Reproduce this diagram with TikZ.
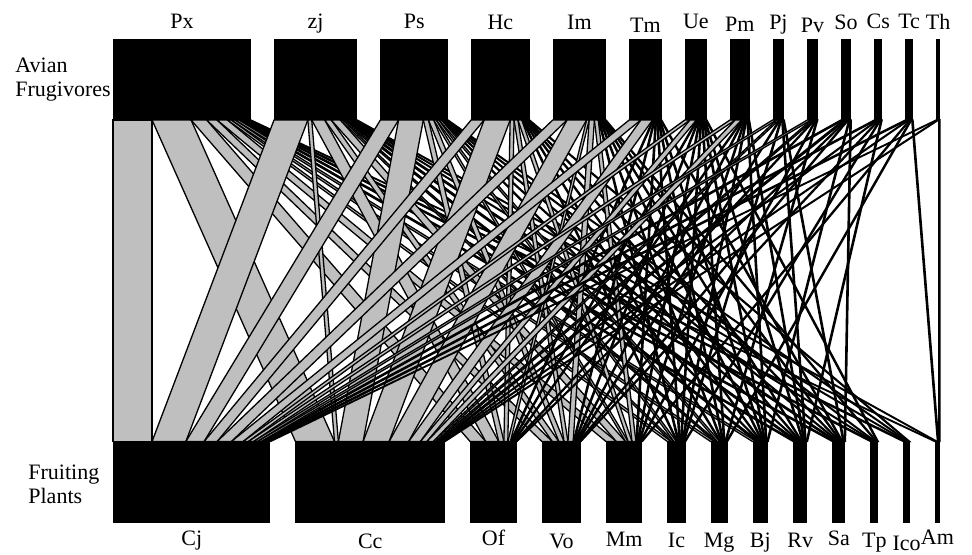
\documentclass[tikz,border=0pt]{standalone}
\usepackage{fontspec}
\setmainfont{Liberation Serif}
\usepackage{tikz}
\usetikzlibrary{calc,backgrounds}
\tikzset{
  specbox/.style={fill=black,draw=none,inner sep=0pt,outer sep=0pt},
  linkband/.style={fill=black!25,draw=black,line width=0.65pt},
  speclabel/.style={font=\fontsize{11}{12}\selectfont,inner sep=0pt,anchor=base},
  sidelabel/.style={font=\fontsize{11}{12}\selectfont,align=left,inner sep=0pt,anchor=north west},
}
% species name / label drop (px)
\def\birdlist{Px/11,zj/11,Ps/11,Hc/10,Im/10,Tm/7,Ue/11,Pm/8,Pj/10,Pv/7,So/10,Cs/11,Tc/11,Th/10}
\def\plantlist{Cj/22,Cc/25,Of/22,Vo/25,Mm/23,Ic/24,Mg/24,Bj/24,Rv/24,Sa/22,Tp/24,Ico/27,Am/21}
% one row per frugivore, columns in plant order
\def\visits{%
  {30,30,12,8,8,3,3,3,2,2,2,2,1},%
  {26,3,10,5,7,2,2,2,2,2,1,1,1},%
  {14,19,4,4,2,2,2,1,1,1,1,1,0},%
  {10,20,3,3,3,1,1,1,1,1,0,1,0},%
  {11,15,2,4,3,1,1,1,1,1,1,0,0},%
  {9,9,1,1,1,1,1,1,0,1,0,0,0},%
  {4,5,1,1,1,1,1,1,1,0,1,0,0},%
  {4,5,1,1,1,1,0,1,1,0,0,0,0},%
  {3,2,0,1,0,1,0,0,1,1,0,0,0},%
  {3,2,1,0,1,0,1,0,0,0,0,0,0},%
  {2,2,1,1,0,0,0,1,0,1,0,0,0},%
  {2,1,0,1,0,1,0,0,1,0,0,0,0},%
  {2,1,0,0,1,0,1,0,0,0,0,0,1},%
  {1,1,0,0,0,0,0,0,0,0,0,0,1}}
\begin{document}
\begin{tikzpicture}[x=0.5pt,y=-0.5pt]
  \useasboundingbox (0,0) rectangle (972,554);
  % row and column totals
  \foreach \j in {0,...,12}{\expandafter\xdef\csname colsum\j\endcsname{0}}
  \xdef\allsum{0}
  \foreach \row [count=\i from 0] in \visits{
    \xdef\rowsum{0}
    \foreach \w [count=\j from 0] in \row{
      \pgfmathtruncatemacro\tmp{\rowsum+\w}\xdef\rowsum{\tmp}
      \pgfmathtruncatemacro\tmp{\csname colsum\j\endcsname+\w}
      \expandafter\xdef\csname colsum\j\endcsname{\tmp}
    }
    \expandafter\xdef\csname rowsum\i\endcsname{\rowsum}
    \pgfmathtruncatemacro\tmp{\allsum+\rowsum}\xdef\allsum{\tmp}
  }
  \pgfmathsetmacro\pxscale{527/\allsum}

  \xdef\xpos{113}
  \foreach \nm/\dy [count=\i from 0] in \birdlist{
    \pgfmathsetmacro\bw{\csname rowsum\i\endcsname*\pxscale}
    \node[specbox,minimum width=\bw*0.5pt,minimum height=40.5pt,anchor=south west] (hi\i) at (\xpos,120) {};
    \node[speclabel] (hilab\i) at ($(hi\i.north)+(0,-\dy)$) {\nm};
    \pgfmathsetmacro\tmp{\xpos+\bw+300/13}\xdef\xpos{\tmp}
  }
  \xdef\xpos{113}
  \foreach \nm/\dy [count=\j from 0] in \plantlist{
    \pgfmathsetmacro\bw{\csname colsum\j\endcsname*\pxscale}
    \node[specbox,minimum width=\bw*0.5pt,minimum height=40.75pt,anchor=north west] (lo\j) at (\xpos,441.5) {};
    \node[speclabel] (lolab\j) at ($(lo\j.south)+(0,\dy)$) {\nm};
    \pgfmathsetmacro\tmp{\xpos+\bw+25}\xdef\xpos{\tmp}
  }

  \node[sidelabel] (birdside) at (15,58) {Avian\\Frugivores};
  \node[sidelabel] (plantside) at (28,465) {Fruiting\\Plants};

  \begin{scope}[on background layer]
    \foreach \j in {0,...,12}{\expandafter\xdef\csname botoff\j\endcsname{0}}
    \foreach \row [count=\i from 0] in \visits{
      \xdef\topoff{0}
      \foreach \w [count=\j from 0] in \row{
        \ifnum\w>0
          \pgfmathsetmacro\lw{\w*\pxscale}
          \edef\bo{\csname botoff\j\endcsname}
          \draw[linkband] ($(hi\i.south west)+(\topoff,0)$) -- ++(\lw,0)
            -- ($(lo\j.north west)+(\bo+\lw,0)$) -- ++(-\lw,0) -- cycle;
          \pgfmathsetmacro\tmp{\topoff+\lw}\xdef\topoff{\tmp}
          \pgfmathsetmacro\tmp{\bo+\lw}
          \expandafter\xdef\csname botoff\j\endcsname{\tmp}
        \fi
      }
    }
  \end{scope}
\end{tikzpicture}
\end{document}
